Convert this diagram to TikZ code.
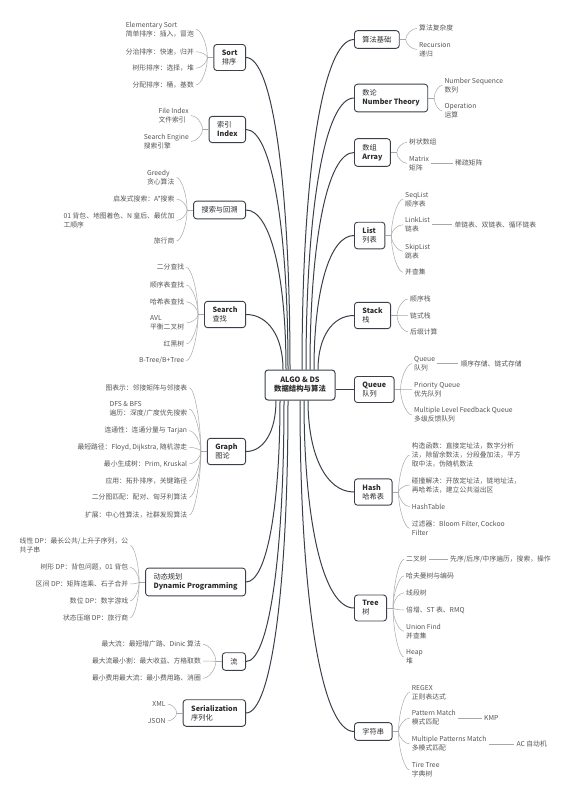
\documentclass[tikz,border=0pt]{standalone}
\usepackage{fontspec}
\setmainfont{Noto Sans CJK SC}
\usepackage{tikz}
\usetikzlibrary{calc}
\definecolor{mapline}{RGB}{58,64,74}
\definecolor{maptext}{RGB}{45,45,45}
\definecolor{twiggray}{RGB}{168,168,168}
\definecolor{leaftext}{RGB}{85,85,85}
\tikzset{
  hub/.style   ={draw=mapline, line width=1pt, rounded corners=3pt, fill=white, align=center,
                 minimum width=70pt, minimum height=30pt, font=\fontsize{7.4}{9}\selectfont\bfseries, text=maptext},
  topic/.style ={draw=mapline, line width=0.9pt, rounded corners=3pt, fill=white, align=left,
                 inner xsep=8pt, inner ysep=5.5pt, font=\fontsize{7.2}{9}\selectfont, text=maptext},
  leaf/.style  ={align=left, inner xsep=2pt, inner ysep=1pt, font=\fontsize{6.8}{9}\selectfont, text=leaftext},
  trunk/.style ={draw=mapline, line width=1pt},
  twig/.style  ={draw=twiggray, line width=0.5pt},
}
\newcommand{\mmcurve}[4][0.6]{\draw[#2] (#3) .. controls ($(#3)!#1!(#3 |- #4)$) and ($(#4)!#1!(#3 |- #4)$) .. (#4);}
\newcommand{\mmtwig}[2]{\mmcurve[0.45]{twig}{#1}{#2}}

\begin{document}
\begin{tikzpicture}[x=1pt,y=-1pt]
  \useasboundingbox (0,0) rectangle (570,800);
  % root
  \node[hub] (root) at (300,385) {ALGO \& DS\\数据结构与算法};
  % left topics
  \node[topic,anchor=east] (sort) at (246,57.5) {{\bfseries Sort}\\排序};
  \node[topic,anchor=east] (index) at (246,129.5) {索引\\{\bfseries Index}};
  \node[topic,anchor=east] (backtrack) at (246,210) {搜索与回溯};
  \node[topic,anchor=east] (search) at (246,314.5) {{\bfseries Search}\\查找};
  \node[topic,anchor=east] (graph) at (246,451.5) {{\bfseries Graph}\\图论};
  \node[topic,anchor=east] (dp) at (246,582) {动态规划\\{\bfseries Dynamic Programming}};
  \node[topic,anchor=east] (flow) at (246,661.5) {流};
  \node[topic,anchor=east] (serial) at (246,713) {{\bfseries Serialization}\\序列化};
  % right topics
  \node[topic,anchor=west] (basics) at (354,39.5) {算法基础};
  \node[topic,anchor=west] (numtheory) at (354,98) {数论\\{\bfseries Number Theory}};
  \node[topic,anchor=west] (array) at (354,152.5) {数组\\{\bfseries Array}};
  \node[topic,anchor=west] (list) at (354,235.5) {{\bfseries List}\\列表};
  \node[topic,anchor=west] (stack) at (354,315.5) {{\bfseries Stack}\\栈};
  \node[topic,anchor=west] (queue) at (354,389.5) {{\bfseries Queue}\\队列};
  \node[topic,anchor=west] (hash) at (354,492) {{\bfseries Hash}\\哈希表};
  \node[topic,anchor=west] (tree) at (354,608) {{\bfseries Tree}\\树};
  \node[topic,anchor=west] (strings) at (354,731.5) {字符串};
  % trunk start points on the root
  \coordinate (rsort) at ([xshift=-10pt]root.north);
  \coordinate (rindex) at ([xshift=-12pt]root.north);
  \coordinate (rbacktrack) at ([xshift=-14pt]root.north);
  \coordinate (rsearch) at ([xshift=-17pt]root.north);
  \coordinate (rbasics) at ([xshift=2pt]root.north);
  \coordinate (rnumtheory) at ([xshift=6pt]root.north);
  \coordinate (rarray) at ([xshift=10pt]root.north);
  \coordinate (rlist) at ([xshift=14pt]root.north);
  \coordinate (rstack) at ([xshift=18pt]root.north);
  \coordinate (rgraph) at ([xshift=-24pt]root.south);
  \coordinate (rdp) at ([xshift=-20pt]root.south);
  \coordinate (rflow) at ([xshift=-16pt]root.south);
  \coordinate (rserial) at ([xshift=-12pt]root.south);
  \coordinate (rhash) at ([xshift=8pt]root.south);
  \coordinate (rtree) at ([xshift=4pt]root.south);
  \coordinate (rstrings) at ([xshift=0pt]root.south);
  \mmcurve{trunk}{rsort}{sort.east}
  \mmcurve{trunk}{rindex}{index.east}
  \mmcurve{trunk}{rbacktrack}{backtrack.east}
  \mmcurve{trunk}{rsearch}{search.east}
  \mmcurve{trunk}{rbasics}{basics.west}
  \mmcurve{trunk}{rnumtheory}{numtheory.west}
  \mmcurve{trunk}{rarray}{array.west}
  \mmcurve{trunk}{rlist}{list.west}
  \mmcurve{trunk}{rstack}{stack.west}
  \mmcurve{trunk}{rgraph}{graph.east}
  \mmcurve{trunk}{rdp}{dp.east}
  \mmcurve{trunk}{rflow}{flow.east}
  \mmcurve{trunk}{rserial}{serial.east}
  \mmcurve{trunk}{rhash}{hash.west}
  \mmcurve{trunk}{rtree}{tree.west}
  \mmcurve{trunk}{rstrings}{strings.west}
  \draw[trunk] (root.east |- queue.west) -- (queue.west);
  % forks
  \coordinate (sortf) at ([xshift=-6pt]sort.west);
  \coordinate (indexf) at ([xshift=-6pt]index.west);
  \coordinate (backtrackf) at ([xshift=-6pt]backtrack.west);
  \coordinate (searchf) at ([xshift=-6pt]search.west);
  \coordinate (graphf) at ([xshift=-6pt]graph.west);
  \coordinate (dpf) at ([xshift=-6pt]dp.west);
  \coordinate (flowf) at ([xshift=-6pt]flow.west);
  \coordinate (serialf) at ([xshift=-6pt]serial.west);
  \coordinate (basicsf) at ([xshift=6pt]basics.east);
  \coordinate (numtheoryf) at ([xshift=6pt]numtheory.east);
  \coordinate (arrayf) at ([xshift=6pt]array.east);
  \coordinate (listf) at ([xshift=6pt]list.east);
  \coordinate (stackf) at ([xshift=6pt]stack.east);
  \coordinate (queuef) at ([xshift=6pt]queue.east);
  \coordinate (hashf) at ([xshift=6pt]hash.east);
  \coordinate (treef) at ([xshift=6pt]tree.east);
  \coordinate (stringsf) at ([xshift=6pt]strings.east);
  \draw[twig] (sort.west) -- (sortf);
  \draw[twig] (index.west) -- (indexf);
  \draw[twig] (backtrack.west) -- (backtrackf);
  \draw[twig] (search.west) -- (searchf);
  \draw[twig] (graph.west) -- (graphf);
  \draw[twig] (dp.west) -- (dpf);
  \draw[twig] (flow.west) -- (flowf);
  \draw[twig] (serial.west) -- (serialf);
  \draw[twig] (basics.east) -- (basicsf);
  \draw[twig] (numtheory.east) -- (numtheoryf);
  \draw[twig] (array.east) -- (arrayf);
  \draw[twig] (list.east) -- (listf);
  \draw[twig] (stack.east) -- (stackf);
  \draw[twig] (queue.east) -- (queuef);
  \draw[twig] (hash.east) -- (hashf);
  \draw[twig] (tree.east) -- (treef);
  \draw[twig] (strings.east) -- (stringsf);
  % Sort
  \node[leaf,anchor=east] (sort1) at (196,29.3) {Elementary Sort\\简单排序：插入，冒泡};
  \node[leaf,anchor=east] (sort2) at (196,51.7) {分治排序：快速，归并};
  \node[leaf,anchor=east] (sort3) at (196,68.3) {树形排序：选择，堆};
  \node[leaf,anchor=east] (sort4) at (196,85) {分配排序：桶，基数};
  \mmtwig{sortf}{sort1.east}
  \mmtwig{sortf}{sort2.east}
  \mmtwig{sortf}{sort3.east}
  \mmtwig{sortf}{sort4.east}
  % Index
  \node[leaf,anchor=east] (index1) at (191,115.5) {File Index\\文件索引};
  \node[leaf,anchor=east] (index2) at (191,141.5) {Search Engine\\搜索引擎};
  \mmtwig{indexf}{index1.east}
  \mmtwig{indexf}{index2.east}
  % backtracking
  \node[leaf,anchor=east] (bt1) at (176.5,177.5) {Greedy\\贪心算法};
  \node[leaf,anchor=east] (bt2) at (176.5,199) {启发式搜索：A*搜索};
  \node[leaf,anchor=east] (bt3) at (176.5,220.5) {01 背包、地图着色、N 皇后、最优加\\工顺序};
  \node[leaf,anchor=east] (bt4) at (176.5,241) {旅行商};
  \mmtwig{backtrackf}{bt1.east}
  \mmtwig{backtrackf}{bt2.east}
  \mmtwig{backtrackf}{bt3.east}
  \mmtwig{backtrackf}{bt4.east}
  % Search
  \node[leaf,anchor=east] (search1) at (186.3,267.3) {二分查找};
  \node[leaf,anchor=east] (search2) at (186.3,285) {顺序表查找};
  \node[leaf,anchor=east] (search3) at (186.3,301.7) {哈希表查找};
  \node[leaf,anchor=east] (search4) at (186.3,323) {AVL\\平衡二叉树};
  \node[leaf,anchor=east] (search5) at (186.3,344) {红黑树};
  \node[leaf,anchor=east] (search6) at (186.3,360.7) {B-Tree/B+Tree};
  \mmtwig{searchf}{search1.east}
  \mmtwig{searchf}{search2.east}
  \mmtwig{searchf}{search3.east}
  \mmtwig{searchf}{search4.east}
  \mmtwig{searchf}{search5.east}
  \mmtwig{searchf}{search6.east}
  % Graph
  \node[leaf,anchor=east] (graph1) at (189.3,387.7) {图表示：邻接矩阵与邻接表};
  \node[leaf,anchor=east] (graph2) at (189.3,409) {DFS \& BFS\\遍历：深度/广度优先搜索};
  \node[leaf,anchor=east] (graph3) at (189.3,430.7) {连通性：连通分量与 Tarjan};
  \node[leaf,anchor=east] (graph4) at (189.3,447.3) {最短路径：Floyd, Dijkstra, 随机游走};
  \node[leaf,anchor=east] (graph5) at (189.3,464) {最小生成树：Prim, Kruskal};
  \node[leaf,anchor=east] (graph6) at (189.3,480.7) {应用：拓扑排序，关键路径};
  \node[leaf,anchor=east] (graph7) at (189.3,497.3) {二分图匹配：配对、匈牙利算法};
  \node[leaf,anchor=east] (graph8) at (189.3,515) {扩展：中心性算法，社群发现算法};
  \mmtwig{graphf}{graph1.east}
  \mmtwig{graphf}{graph2.east}
  \mmtwig{graphf}{graph3.east}
  \mmtwig{graphf}{graph4.east}
  \mmtwig{graphf}{graph5.east}
  \mmtwig{graphf}{graph6.east}
  \mmtwig{graphf}{graph7.east}
  \mmtwig{graphf}{graph8.east}
  % Dynamic Programming
  \node[leaf,anchor=east] (dp1) at (130.3,545.5) {线性 DP：最长公共/上升子序列，公\\共子串};
  \node[leaf,anchor=east] (dp2) at (130.3,567.3) {树形 DP：背包问题，01 背包};
  \node[leaf,anchor=east] (dp3) at (130.3,584) {区间 DP：矩阵连乘、石子合并};
  \node[leaf,anchor=east] (dp4) at (130.3,600.7) {数位 DP：数字游戏};
  \node[leaf,anchor=east] (dp5) at (130.3,617.7) {状态压缩 DP：旅行商};
  \mmtwig{dpf}{dp1.east}
  \mmtwig{dpf}{dp2.east}
  \mmtwig{dpf}{dp3.east}
  \mmtwig{dpf}{dp4.east}
  \mmtwig{dpf}{dp5.east}
  % flow
  \node[leaf,anchor=east] (flow1) at (203,644.3) {最大流：最短增广路、Dinic 算法};
  \node[leaf,anchor=east] (flow2) at (203,661) {最大流最小割：最大收益、方格取数};
  \node[leaf,anchor=east] (flow3) at (203,678.3) {最小费用最大流：最小费用路、消圈};
  \mmtwig{flowf}{flow1.east}
  \mmtwig{flowf}{flow2.east}
  \mmtwig{flowf}{flow3.east}
  % Serialization
  \node[leaf,anchor=east] (serial1) at (167.7,704) {XML};
  \node[leaf,anchor=east] (serial2) at (167.7,721) {JSON};
  \mmtwig{serialf}{serial1.east}
  \mmtwig{serialf}{serial2.east}
  % basics
  \node[leaf,anchor=west] (basics1) at (417,28.3) {算法复杂度};
  \node[leaf,anchor=west] (basics2) at (417,49.5) {Recursion\\递归};
  \mmtwig{basicsf}{basics1.west}
  \mmtwig{basicsf}{basics2.west}
  % Number Theory
  \node[leaf,anchor=west] (nt1) at (442.3,85.3) {Number Sequence\\数列};
  \node[leaf,anchor=west] (nt2) at (442.3,111) {Operation\\运算};
  \mmtwig{numtheoryf}{nt1.west}
  \mmtwig{numtheoryf}{nt2.west}
  % Array
  \node[leaf,anchor=west] (array1) at (407,142.3) {树状数组};
  \node[leaf,anchor=west] (array2) at (407,163.3) {Matrix\\矩阵};
  \node[leaf,anchor=west] (sparse) at (453,163.3) {稀疏矩阵};
  \mmtwig{arrayf}{array1.west}
  \mmtwig{arrayf}{array2.west}
  \draw[twig] (array2.east) -- (sparse.west);
  % List
  \node[leaf,anchor=west] (list1) at (403,199.2) {SeqList\\顺序表};
  \node[leaf,anchor=west] (list2) at (403,224.7) {LinkList\\链表};
  \node[leaf,anchor=west] (linkkinds) at (452.3,224.7) {单链表、双链表、循环链表};
  \node[leaf,anchor=west] (list3) at (403,251.2) {SkipList\\跳表};
  \node[leaf,anchor=west] (list4) at (403,272.3) {并查集};
  \mmtwig{listf}{list1.west}
  \mmtwig{listf}{list2.west}
  \mmtwig{listf}{list3.west}
  \mmtwig{listf}{list4.west}
  \draw[twig] (list2.east) -- (linkkinds.west);
  % Stack
  \node[leaf,anchor=west] (stack1) at (408,299) {顺序栈};
  \node[leaf,anchor=west] (stack2) at (408,315.7) {链式栈};
  \node[leaf,anchor=west] (stack3) at (408,331.7) {后缀计算};
  \mmtwig{stackf}{stack1.west}
  \mmtwig{stackf}{stack2.west}
  \mmtwig{stackf}{stack3.west}
  % Queue
  \node[leaf,anchor=west] (queue1) at (412,363.7) {Queue\\队列};
  \node[leaf,anchor=west] (storage) at (458.3,363.7) {顺序存储、链式存储};
  \node[leaf,anchor=west] (queue2) at (412,389.5) {Priority Queue\\优先队列};
  \node[leaf,anchor=west] (queue3) at (412,415) {Multiple Level Feedback Queue\\多级反馈队列};
  \mmtwig{queuef}{queue1.west}
  \mmtwig{queuef}{queue2.west}
  \mmtwig{queuef}{queue3.west}
  \draw[twig] (queue1.east) -- (storage.west);
  % Hash
  \node[leaf,anchor=west] (hash1) at (409.7,455) {构造函数：直接定址法，数字分析\\法，除留余数法，分段叠加法，平方\\取中法，伪随机数法};
  \node[leaf,anchor=west] (hash2) at (409.7,485) {碰撞解决：开放定址法，链地址法，\\再哈希法，建立公共溢出区};
  \node[leaf,anchor=west] (hash3) at (409.7,506.7) {HashTable};
  \node[leaf,anchor=west] (hash4) at (409.7,528.3) {过滤器：Bloom Filter, Cockoo\\Filter};
  \mmtwig{hashf}{hash1.west}
  \mmtwig{hashf}{hash2.west}
  \mmtwig{hashf}{hash3.west}
  \mmtwig{hashf}{hash4.west}
  % Tree
  \node[leaf,anchor=west] (tree1) at (404,559.3) {二叉树};
  \node[leaf,anchor=west] (traverse) at (448,559.3) {先序/后序/中序遍历，搜索，操作};
  \node[leaf,anchor=west] (tree2) at (404,576) {哈夫曼树与编码};
  \node[leaf,anchor=west] (tree3) at (404,592.7) {线段树};
  \node[leaf,anchor=west] (tree4) at (404,610) {倍增、ST 表、RMQ};
  \node[leaf,anchor=west] (tree5) at (404,631.2) {Union Find\\并查集};
  \node[leaf,anchor=west] (tree6) at (404,657.2) {Heap\\堆};
  \mmtwig{treef}{tree1.west}
  \mmtwig{treef}{tree2.west}
  \mmtwig{treef}{tree3.west}
  \mmtwig{treef}{tree4.west}
  \mmtwig{treef}{tree5.west}
  \mmtwig{treef}{tree6.west}
  \draw[twig] (tree1.east) -- (traverse.west);
  % strings
  \node[leaf,anchor=west] (str1) at (409.7,692.3) {REGEX\\正则表达式};
  \node[leaf,anchor=west] (str2) at (409.7,718) {Pattern Match\\模式匹配};
  \node[leaf,anchor=west] (kmp) at (482,718) {KMP};
  \node[leaf,anchor=west] (str3) at (409.7,744) {Multiple Patterns Match\\多模式匹配};
  \node[leaf,anchor=west] (acauto) at (514.3,744) {AC 自动机};
  \node[leaf,anchor=west] (str4) at (409.7,770) {Tire Tree\\字典树};
  \mmtwig{stringsf}{str1.west}
  \mmtwig{stringsf}{str2.west}
  \mmtwig{stringsf}{str3.west}
  \mmtwig{stringsf}{str4.west}
  \draw[twig] (str2.east) -- (kmp.west);
  \draw[twig] (str3.east) -- (acauto.west);
\end{tikzpicture}
\end{document}
